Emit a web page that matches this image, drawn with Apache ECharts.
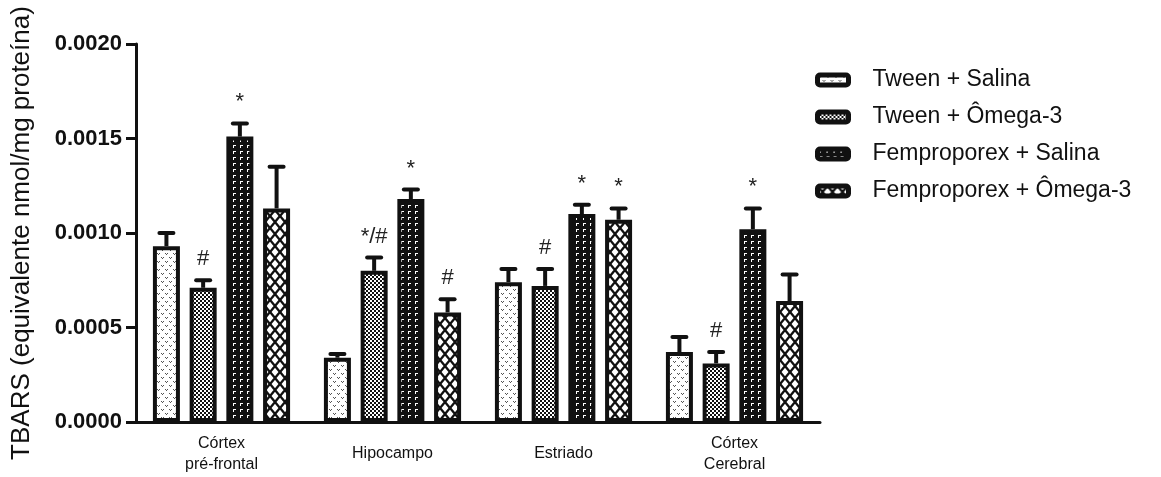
<!DOCTYPE html>
<html>
<head>
<meta charset="utf-8">
<title>TBARS</title>
<script src="https://cdn.jsdelivr.net/npm/echarts@6/dist/echarts.min.js"></script>
<style>
  html, body { margin: 0; padding: 0; background: #fff; }
  #chart { width: 1161px; height: 477px; }
</style>
</head>
<body>
<div id="chart"></div>
<script>
// Brain regions on the x axis
const categories = ['Córtex\npré-frontal', 'Hipocampo', 'Estriado', 'Córtex\nCerebral'];

// Group names
const seriesNames = ['Tween + Salina', 'Tween + Ômega-3', 'Femproporex + Salina', 'Femproporex + Ômega-3'];

// Means (nmol/mg proteína) per region
const tweenSalina = [0.00093, 0.00034, 0.00074, 0.00037];
const tweenOmega  = [0.00071, 0.00080, 0.00072, 0.00031];
const fempSalina  = [0.00151, 0.00118, 0.00110, 0.00102];
const fempOmega   = [0.00113, 0.00058, 0.00107, 0.00064];

// Standard errors (upper error bars)
const tweenSalinaErr = [0.00007, 0.00002, 0.00007, 0.00008];
const tweenOmegaErr  = [0.00004, 0.00007, 0.00009, 0.00006];
const fempSalinaErr  = [0.00007, 0.00005, 0.00005, 0.00011];
const fempOmegaErr   = [0.00022, 0.00007, 0.00006, 0.00014];

// Significance marks above each bar
const tweenSalinaSig = ['', '', '', ''];
const tweenOmegaSig  = ['#', '*/#', '#', '#'];
const fempSalinaSig  = ['*', '*', '*', '*'];
const fempOmegaSig   = ['', '#', '*', ''];

// Y axis ticks
const yTicks = [0, 0.0005, 0.0010, 0.0015, 0.0020];

const means = [tweenSalina, tweenOmega, fempSalina, fempOmega];
const errs = [tweenSalinaErr, tweenOmegaErr, fempSalinaErr, fempOmegaErr];
const sigs = [tweenSalinaSig, tweenOmegaSig, fempSalinaSig, fempOmegaSig];

const FONT = '"Liberation Sans", Arial, Helvetica, sans-serif';
const INK = '#111';
const BAR_W = 27;
const BAR_GAP_PCT = 36;
const STEP = BAR_W * (1 + BAR_GAP_PCT / 100);

// ---- fill patterns -------------------------------------------------------
function tile(w, h, draw) {
  const c = document.createElement('canvas');
  c.width = w; c.height = h;
  const g = c.getContext('2d');
  draw(g, w, h);
  return c;
}
// light stipple of small "v" marks
const patStipple = tile(8, 8, (g) => {
  g.fillStyle = '#fff'; g.fillRect(0, 0, 8, 8);
  g.fillStyle = '#555';
  [[1,1],[2,2],[3,1],[5,5],[6,6],[7,5]].forEach(([x, y]) => g.fillRect(x, y, 1, 1));
});
// fine checkerboard
const patChecker = tile(4, 4, (g) => {
  g.fillStyle = '#fff'; g.fillRect(0, 0, 4, 4);
  g.fillStyle = '#111';
  g.fillRect(0, 0, 2, 2); g.fillRect(2, 2, 2, 2);
});
// dark fill with small white corner marks
const patCorners = tile(7, 6, (g) => {
  g.fillStyle = '#111'; g.fillRect(0, 0, 7, 6);
  g.fillStyle = '#fff';
  g.fillRect(2, 1, 3, 1);
  g.fillRect(2, 2, 1, 2);
});
// diagonal cross hatch forming white diamonds
const patHatch = tile(10, 12, (g) => {
  g.fillStyle = '#fff'; g.fillRect(0, 0, 10, 12);
  g.strokeStyle = '#111'; g.lineWidth = 2.4;
  g.beginPath();
  g.moveTo(-5, -6); g.lineTo(15, 18);
  g.moveTo(15, -6); g.lineTo(-5, 18);
  g.moveTo(-5, 6); g.lineTo(5, 18);
  g.moveTo(5, -6); g.lineTo(15, 6);
  g.moveTo(15, 6); g.lineTo(5, 18);
  g.moveTo(5, -6); g.lineTo(-5, 6);
  g.stroke();
});
const patterns = [patStipple, patChecker, patCorners, patHatch];

// ---- series --------------------------------------------------------------
const barSeries = seriesNames.map((name, s) => ({
  name: name,
  type: 'bar',
  data: means[s],
  barWidth: BAR_W,
  barGap: BAR_GAP_PCT + '%',
  itemStyle: {
    color: { image: patterns[s], repeat: 'repeat' },
    borderColor: INK,
    borderWidth: 4
  },
  emphasis: { disabled: true },
  z: 2
}));

const errorSeries = seriesNames.map((name, s) => ({
  type: 'custom',
  name: name + ' erro',
  z: 3,
  silent: true,
  data: means[s].map((m, i) => [i, m, m + errs[s][i]]),
  renderItem: function (params, api) {
    const i = api.value(0);
    const base = api.coord([i, api.value(1)]);
    const top = api.coord([i, api.value(2)]);
    const x = base[0] + (s - 1.5) * STEP;
    const capHalf = 7;
    const mark = sigs[s][params.dataIndex];
    const children = [
      { type: 'line', shape: { x1: x, y1: base[1], x2: x, y2: top[1] },
        style: { stroke: INK, lineWidth: 4 } },
      { type: 'line', shape: { x1: x - capHalf, y1: top[1], x2: x + capHalf, y2: top[1] },
        style: { stroke: INK, lineWidth: 4, lineCap: 'round' } }
    ];
    if (mark) {
      children.push({
        type: 'text',
        style: {
          text: mark, x: x, y: top[1] - 10,
          align: 'center', verticalAlign: 'bottom',
          font: '22px ' + FONT, fill: '#222'
        }
      });
    }
    return { type: 'group', children: children };
  }
}));

const chart = echarts.init(document.getElementById('chart'), null, { renderer: 'canvas' });
chart.setOption({
  animation: false,
  backgroundColor: '#fff',
  textStyle: { fontFamily: FONT },
  grid: { left: 136, top: 44, width: 684, height: 378, containLabel: false },
  legend: {
    data: seriesNames,
    orient: 'vertical',
    left: 810,
    top: 63,
    icon: 'roundRect',
    itemWidth: 31,
    itemHeight: 10,
    itemGap: 13,
    selectedMode: false,
    itemStyle: { borderColor: INK, borderWidth: 5 },
    textStyle: { fontSize: 23, color: '#111', fontFamily: FONT, padding: [0, 0, 0, 19], lineHeight: 24 }
  },
  xAxis: {
    type: 'category',
    data: categories,
    axisLine: { lineStyle: { color: INK, width: 3 } },
    axisTick: { alignWithLabel: true, length: 8, lineStyle: { color: INK, width: 3 } },
    axisLabel: {
      color: '#111', fontSize: 16, fontFamily: FONT,
      lineHeight: 21, verticalAlign: 'middle', margin: 32
    },
    splitLine: { show: false }
  },
  yAxis: {
    type: 'value',
    min: yTicks[0],
    max: yTicks[yTicks.length - 1],
    interval: yTicks[1] - yTicks[0],
    name: 'TBARS (equivalente nmol/mg proteína)',
    nameLocation: 'middle',
    nameGap: 101,
    nameTextStyle: { fontSize: 26, color: '#111', fontFamily: FONT },
    axisLine: { show: true, lineStyle: { color: INK, width: 3 } },
    axisTick: { show: true, length: 10, lineStyle: { color: INK, width: 3 } },
    axisLabel: {
      color: '#111', fontSize: 22, fontWeight: 'bold', fontFamily: FONT, margin: 14,
      formatter: (v) => v.toFixed(4)
    },
    splitLine: { show: false }
  },
  series: barSeries.concat(errorSeries)
});
</script>
</body>
</html>
